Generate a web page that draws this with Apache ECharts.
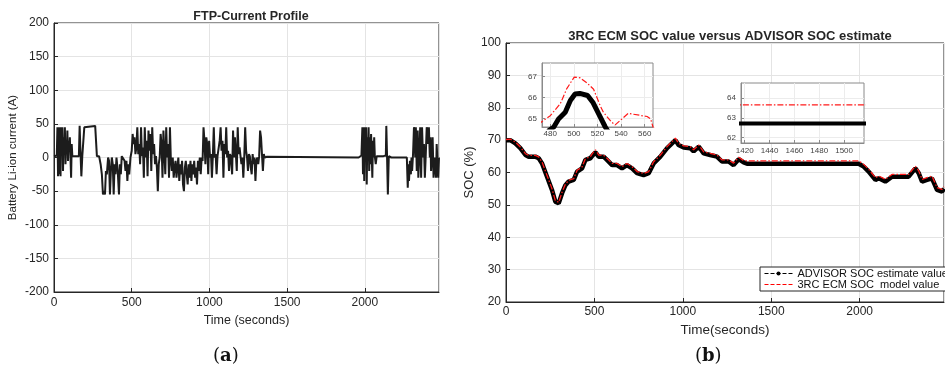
<!DOCTYPE html>
<html>
<head>
<meta charset="utf-8">
<script src="https://cdn.jsdelivr.net/npm/echarts@6/dist/echarts.min.js"></script>
<style>
html,body{margin:0;padding:0;background:#fff;}
#chart{width:945px;height:373px;}
</style>
</head>
<body>
<div id="chart"></div>
<script>
// ---------- DATA ----------
const leftTitle = 'FTP-Current Profile';
const rightTitle = '3RC ECM SOC value versus ADVISOR SOC estimate';
const timeTicks = [0, 500, 1000, 1500, 2000];
const currentTicks = [-200, -150, -100, -50, 0, 50, 100, 150, 200];
const socTicks = [20, 30, 40, 50, 60, 70, 80, 90, 100];
const inset1XTicks = [480, 500, 520, 540, 560];
const inset1YTicks = [65, 66, 67];
const inset2XTicks = [1420, 1440, 1460, 1480, 1500];
const inset2YTicks = [62, 63, 64];

// FTP current profile [time s, current A]
const currentProfile = [
[0,2],[10,2],[18,3],[22,45],[26,-28],[30,45],[34,-25],[38,45],[42,-28],[46,45],[50,10],[54,45],[58,-20],[62,30],[66,5],[70,45],[74,-10],[78,20],[82,5],[86,40],[90,-5],[94,25],[98,10],[102,30],[106,0],[110,-30],[114,20],[118,2],[140,2],[160,2],[165,47],[170,10],[176,-28],[182,2],[190,2],[195,45],[205,47],[265,47],[272,45],[276,2],[290,2],[300,-10],[308,-25],[315,-55],[322,-50],[328,-55],[334,-20],[340,-25],[348,0],[354,-5],[360,-55],[366,-20],[372,0],[378,-10],[384,-55],[390,-10],[396,-25],[402,0],[410,-20],[418,-55],[424,-10],[430,-25],[436,2],[446,2],[454,-5],[460,-20],[466,-5],[472,-35],[478,-10],[484,-25],[492,0],[500,10],[506,35],[512,20],[518,30],[524,5],[530,15],[536,45],[542,5],[548,20],[554,-10],[560,45],[566,2],[572,15],[578,-30],[584,45],[590,0],[596,25],[602,-28],[608,40],[614,10],[620,35],[626,-20],[632,45],[638,5],[644,20],[650,-10],[656,2],[662,-15],[668,-50],[674,-10],[680,0],[686,35],[692,20],[698,-30],[704,40],[710,10],[716,-25],[722,45],[728,0],[734,20],[740,-30],[746,45],[752,-5],[758,-20],[764,0],[770,-30],[776,-15],[782,-5],[788,-30],[794,-15],[800,0],[806,-35],[812,-10],[818,-25],[824,-5],[830,-40],[836,-50],[842,-15],[848,-5],[854,-25],[860,-40],[866,-10],[872,-30],[878,-5],[884,-35],[890,-10],[896,-25],[902,-5],[908,-30],[914,-15],[920,-40],[926,-5],[932,-20],[938,0],[944,-25],[950,0],[956,-5],[962,45],[968,25],[974,-10],[980,30],[986,20],[992,-25],[998,25],[1004,0],[1010,5],[1016,-30],[1022,2],[1028,45],[1034,0],[1040,5],[1046,-25],[1052,2],[1060,2],[1066,25],[1072,45],[1078,10],[1084,25],[1090,-30],[1096,20],[1102,5],[1108,45],[1114,0],[1120,10],[1126,-20],[1132,5],[1138,2],[1146,-25],[1152,40],[1158,0],[1164,30],[1170,5],[1176,-20],[1182,45],[1188,5],[1194,15],[1200,2],[1206,-10],[1212,0],[1218,-30],[1224,0],[1230,45],[1236,10],[1242,0],[1248,-20],[1254,5],[1260,2],[1266,-15],[1272,-25],[1278,5],[1284,-10],[1290,0],[1296,-35],[1302,-5],[1308,0],[1314,-10],[1320,2],[1326,40],[1332,30],[1338,5],[1344,-20],[1350,5],[1356,0],[1362,2],[1370,1],[1380,0],[1960,0],[1978,3],[1984,45],[1988,-25],[1992,45],[1996,-35],[2000,45],[2004,0],[2008,45],[2012,-40],[2016,30],[2020,-5],[2024,45],[2028,-20],[2032,30],[2036,-10],[2040,35],[2044,5],[2048,-30],[2052,25],[2056,0],[2060,30],[2064,2],[2070,-10],[2076,2],[2100,2],[2120,2],[2135,3],[2138,47],[2142,10],[2148,-55],[2154,2],[2170,0],[2270,0],[2276,-45],[2280,-10],[2284,-35],[2290,-5],[2296,-25],[2300,0],[2304,-20],[2310,5],[2316,45],[2320,40],[2324,0],[2328,45],[2334,-20],[2340,40],[2344,-30],[2350,2],[2356,45],[2362,-30],[2368,45],[2374,0],[2380,20],[2386,-30],[2392,5],[2398,45],[2402,40],[2406,20],[2412,45],[2418,0],[2422,30],[2426,-20],[2432,5],[2436,30],[2442,-30],[2448,0],[2452,2],[2458,-30],[2462,20],[2466,0],[2472,-30],[2477,0]
];

// SOC traces
const socTime = [0,24,53,81,110,128,166,185,204,232,260,279,298,317,336,354,383,402,430,449,477,490,506,524,552,571,600,628,656,684,713,741,778,807,835,873,911,958,976,1005,1042,1061,1090,1118,1155,1193,1221,1259,1287,1316,1344,1363,1400,1995,2023,2051,2089,2108,2145,2183,2277,2315,2334,2353,2381,2409,2438,2466,2477];
const advisorSoc = [70.0,70.0,69.0,67.5,65.4,64.9,64.9,64.4,62.8,58.7,54.6,51.0,50.5,53.6,56.1,57.2,57.7,60.3,61.3,63.9,64.4,65.3,66.2,64.9,64.9,63.9,62.3,62.3,61.3,62.3,61.3,59.8,59.2,59.8,62.8,64.9,67.5,70.0,68.5,67.7,67.5,66.5,68.0,65.9,65.4,64.9,63.4,63.4,62.3,64.1,63.1,62.7,62.7,62.7,61.8,60.3,57.7,58.2,57.2,58.7,58.7,61.3,59.8,57.2,57.7,58.2,54.6,54.1,55.0];
const ecmSoc = [70.2,70.3,69.4,67.9,65.8,65.3,65.3,64.8,63.2,59.1,55.0,51.3,50.8,53.9,56.4,57.6,58.1,60.7,61.7,64.3,64.9,66.0,67.0,65.4,65.3,64.4,62.8,62.8,61.8,62.8,61.8,60.3,59.7,60.3,63.3,65.4,68.0,70.6,69.0,68.2,68.0,67.0,68.5,66.4,65.9,65.4,63.9,63.9,62.9,64.7,63.7,63.6,63.6,63.6,62.5,61.0,58.4,58.9,57.9,59.4,59.4,62.0,60.5,57.9,58.4,58.9,55.3,54.8,55.6];

// Inset 1 (zoom 473-567 s)
const inset1AdvTime = [478,483,487,492.7,497,501,505,511.6,516,521,526.6,531];
const inset1AdvSoc = [64.4,64.6,64.98,65.3,65.86,66.17,66.2,66.1,65.78,65.22,64.6,64.2];
const inset1EcmTime = [470,473,480,488.5,494,500.3,505.4,511,516.7,522.4,525,532,535,546,562,565,567,570];
const inset1EcmSoc = [64.7,64.86,65.14,65.71,66.43,66.98,66.94,66.7,66.4,65.6,65.3,64.83,64.7,65.25,65.1,64.98,64.6,64.4];

// Inset 2 (zoom 1417-1516 s)
const inset2Time = [1400,1420,1440,1460,1480,1500,1520];
const inset2AdvSoc = [62.71,62.71,62.71,62.71,62.71,62.71,62.71];
const inset2EcmSoc = [63.66,63.66,63.66,63.66,63.66,63.66,63.66];

const advName = 'ADVISOR SOC estimate value';
const ecmName = '3RC ECM SOC  model value';

// ---------- CHART ----------
const pairs = (xs, ys) => xs.map((x, i) => [x, ys[i]]);
const FONT = "'Liberation Sans', Arial, Helvetica, sans-serif";
const TXT = '#262626';
const GRIDC = '#e4e4e4';
const dashDot = [6, 2, 1.5, 2];
const plain = v => String(v);

function mainX(idx, name, gap, nameSize, margin) {
  return {
    type: 'value', gridIndex: idx, min: timeTicks[0], max: 2477, interval: 500,
    name: name, nameLocation: 'middle', nameGap: gap,
    nameTextStyle: {fontFamily: FONT, fontSize: nameSize, color: TXT},
    axisLine: {show: true, onZero: false, lineStyle: {color: TXT, width: 1}},
    axisTick: {show: true, inside: true, length: 4, lineStyle: {color: TXT}},
    axisLabel: {fontFamily: FONT, fontSize: 12, color: TXT, margin: margin, showMaxLabel: false, formatter: plain},
    splitLine: {show: true, lineStyle: {color: GRIDC, width: 1}}
  };
}
function mainY(idx, ticks, name, gap, nameSize) {
  return {
    type: 'value', gridIndex: idx, min: ticks[0], max: ticks[ticks.length - 1], interval: ticks[1] - ticks[0],
    name: name, nameLocation: 'middle', nameGap: gap, nameRotate: 90,
    nameTextStyle: {fontFamily: FONT, fontSize: nameSize, color: TXT},
    axisLine: {show: true, onZero: false, lineStyle: {color: TXT, width: 1}},
    axisTick: {show: true, inside: true, length: 4, lineStyle: {color: TXT}},
    axisLabel: {fontFamily: FONT, fontSize: 12, color: TXT, margin: 5, formatter: plain},
    splitLine: {show: true, lineStyle: {color: GRIDC, width: 1}}
  };
}
function insetAxis(idx, min, max, split, ticks, margin) {
  return {
    type: 'value', gridIndex: idx, min: min, max: max, splitNumber: split, z: 5,
    axisLine: {show: true, onZero: false, lineStyle: {color: '#8a8a8a', width: 1}},
    axisTick: {show: true, inside: true, length: 3, lineStyle: {color: '#8a8a8a'}, customValues: ticks},
    axisLabel: {fontFamily: FONT, fontSize: 8, color: '#444', margin: margin, customValues: ticks, formatter: plain},
    splitLine: {show: true, lineStyle: {color: '#ececec', width: 1}}
  };
}

const option = {
  backgroundColor: '#fff',
  animation: false,
  title: [
    {text: leftTitle, left: 246, top: 5, textAlign: 'center',
     textStyle: {fontFamily: FONT, fontSize: 12.5, fontWeight: 'bold', color: TXT}},
    {text: rightTitle, left: 725, top: 25, textAlign: 'center',
     textStyle: {fontFamily: FONT, fontSize: 13, fontWeight: 'bold', color: TXT}}
  ],
  legend: {
    orient: 'vertical', left: 760, top: 267, padding: [1, 4, 1, 4], itemGap: 0,
    itemWidth: 28, itemHeight: 5, backgroundColor: '#fff',
    borderColor: TXT, borderWidth: 1, borderRadius: 0,
    textStyle: {fontFamily: FONT, fontSize: 11, color: '#111', lineHeight: 11},
    data: [
      {name: advName, lineStyle: {type: 'dashed', width: 1, color: '#000'}, itemStyle: {color: '#000'}},
      {name: ecmName, lineStyle: {type: 'dashed', width: 1, color: '#ff0000'}, itemStyle: {opacity: 0}}
    ]
  },
  grid: [
    {left: 54, top: 23, width: 385, height: 269, show: true, borderColor: TXT, borderWidth: 1, backgroundColor: '#fff'},
    {left: 506, top: 43, width: 438, height: 259, show: true, borderColor: TXT, borderWidth: 1, backgroundColor: '#fff'},
    {left: 542, top: 63, width: 111, height: 64, show: true, borderColor: '#8a8a8a', borderWidth: 1, backgroundColor: '#fff', z: 4},
    {left: 741, top: 83, width: 123, height: 60, show: true, borderColor: '#8a8a8a', borderWidth: 1, backgroundColor: '#fff', z: 4}
  ],
  xAxis: [
    mainX(0, 'Time (seconds)', 19, 12.5, 5),
    mainX(1, 'Time(seconds)', 15, 13.5, 4),
    insetAxis(2, 473, 567, 5, inset1XTicks, 3),
    insetAxis(3, 1417, 1516, 5, inset2XTicks, 4)
  ],
  yAxis: [
    mainY(0, currentTicks, 'Battery Li-ion current (A)', 35, 11.5),
    mainY(1, socTicks, 'SOC (%)', 30, 13),
    insetAxis(2, 64.6, 67.65, 3, inset1YTicks, 5),
    insetAxis(3, 61.72, 64.77, 3, inset2YTicks, 5)
  ],
  series: [
    {type: 'line', name: 'current', xAxisIndex: 0, yAxisIndex: 0, data: currentProfile,
     showSymbol: false, symbol: 'none', lineStyle: {color: '#1c1c1c', width: 2}, z: 3},
    {type: 'line', name: advName, xAxisIndex: 1, yAxisIndex: 1, data: pairs(socTime, advisorSoc),
     symbol: 'circle', symbolSize: 5, showSymbol: false, itemStyle: {color: '#000'},
     lineStyle: {color: '#000', width: 4.5}, z: 3},
    {type: 'line', name: ecmName, xAxisIndex: 1, yAxisIndex: 1, data: pairs(socTime, ecmSoc),
     symbol: 'none', itemStyle: {color: '#ff0000'},
     lineStyle: {color: '#ff1a1a', width: 1.3, type: dashDot}, z: 4},
    {type: 'line', name: 'inset1adv', xAxisIndex: 2, yAxisIndex: 2, data: pairs(inset1AdvTime, inset1AdvSoc),
     symbol: 'none', lineStyle: {color: '#000', width: 5}, z: 10},
    {type: 'line', name: 'inset1ecm', xAxisIndex: 2, yAxisIndex: 2, data: pairs(inset1EcmTime, inset1EcmSoc),
     symbol: 'none', lineStyle: {color: '#ff1a1a', width: 1.2, type: dashDot}, z: 11},
    {type: 'line', name: 'inset2adv', xAxisIndex: 3, yAxisIndex: 3, data: pairs(inset2Time, inset2AdvSoc),
     symbol: 'none', lineStyle: {color: '#000', width: 4}, z: 10},
    {type: 'line', name: 'inset2ecm', xAxisIndex: 3, yAxisIndex: 3, data: pairs(inset2Time, inset2EcmSoc),
     symbol: 'none', lineStyle: {color: '#ff1a1a', width: 1.3, type: dashDot}, z: 11}
  ],
  graphic: [
    {type: 'text', left: 213, top: 347, style: {
      text: '({b|a})', font: "18px 'DejaVu Serif', 'Liberation Serif', serif", fill: '#111',
      rich: {b: {fontWeight: 'bold', fontSize: 18, fontFamily: "'DejaVu Serif', 'Liberation Serif', serif"}}}},
    {type: 'text', left: 695, top: 347, style: {
      text: '({b|b})', font: "18px 'DejaVu Serif', 'Liberation Serif', serif", fill: '#111',
      rich: {b: {fontWeight: 'bold', fontSize: 18, fontFamily: "'DejaVu Serif', 'Liberation Serif', serif"}}}}
  ]
};

const chart = echarts.init(document.getElementById('chart'), null, {renderer: 'canvas'});
chart.setOption(option);
</script>
</body>
</html>
